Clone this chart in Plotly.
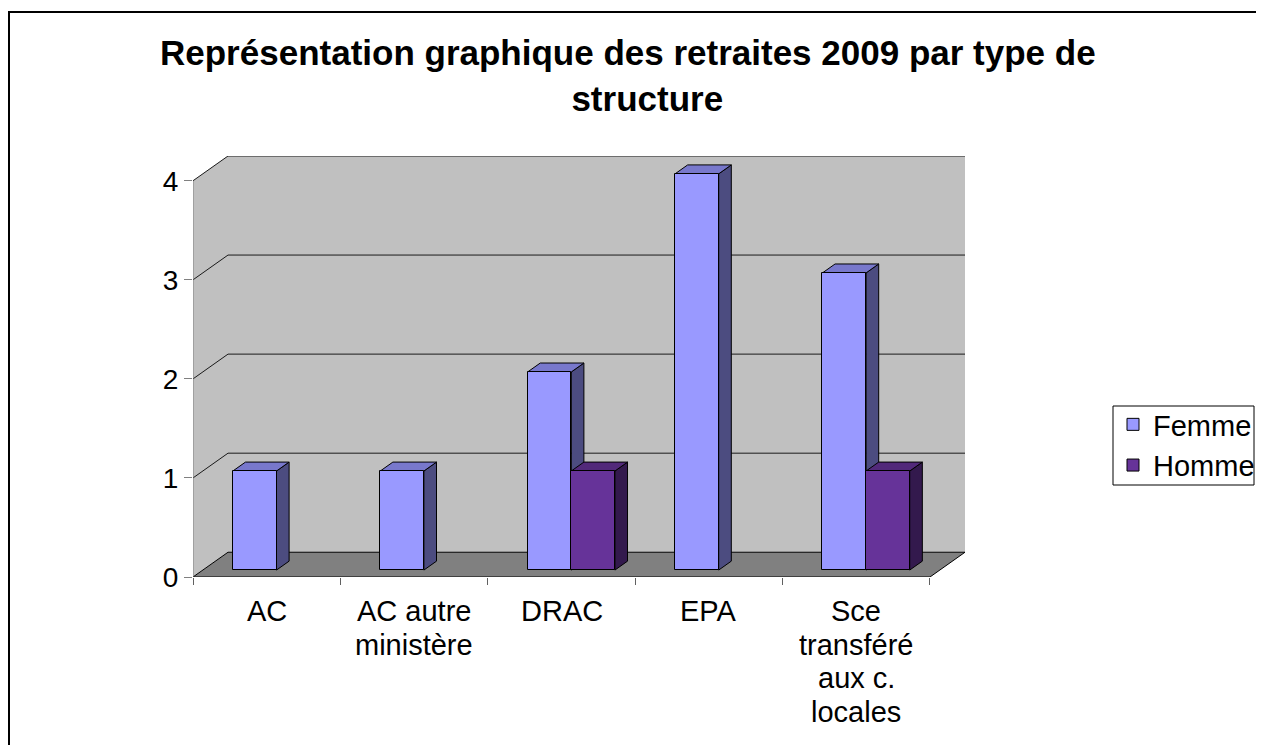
import plotly.graph_objects as go

# ---- data ----
categories = ["AC", "AC autre<br>ministère", "DRAC", "EPA", "Sce<br>transféré<br>aux c.<br>locales"]
femme = [1, 1, 2, 4, 3]
homme = [0, 0, 1, 0, 1]
series_names = ["Femme", "Homme"]
y_ticks = [0, 1, 2, 3, 4]
title_lines = ["Représentation graphique des retraites 2009 par type de", "structure"]

# ---- styling / geometry (page pixels, the page has an 8px body margin) ----
OFF = 8
W, H = 1264 - OFF, 745 - OFF
PLOT_L, PLOT_R, PLOT_T, PLOT_B = 193, 965, 156, 577   # page pixel coords of the plot box
ML, MR = PLOT_L - OFF, W - (PLOT_R - OFF)
MT, MB = PLOT_T - OFF, H - (PLOT_B - OFF)
pw, ph = W - ML - MR, H - MT - MB


def px(xp):  # page x pixel -> paper
    return (xp - PLOT_L) / pw


def py(yp):  # page y pixel -> paper
    return (PLOT_B - yp) / ph


N = len(categories)
YMAX = 4
DX, DY = 0.2375, 0.25          # depth of the 3D box in data units
BF, BB = 0.28, 0.64            # bar front / back position within depth
BW = 0.296                     # bar width (category units)
fx, fy = BF * DX, BF * DY
bdx, bdy = (BB - BF) * DX, (BB - BF) * DY

front_cols = ["#9999FF", "#663399"]
top_cols = ["#7878CC", "#52297A"]
side_cols = ["#4C4C80", "#33194D"]
FONT = "Liberation Sans, Arial, sans-serif"

shapes = []


def path(pts):
    return "M " + " L ".join(f"{x},{y}" for x, y in pts) + " Z"


# walls and floor
shapes.append(dict(type="path", path=path([(DX, DY), (N + DX, DY), (N + DX, YMAX + DY), (DX, YMAX + DY)]),
                   fillcolor="#C0C0C0", line=dict(width=0), layer="below"))
shapes.append(dict(type="path", path=path([(0, 0), (DX, DY), (DX, YMAX + DY), (0, YMAX)]),
                   fillcolor="#C0C0C0", line=dict(width=0), layer="below"))
shapes.append(dict(type="path", path=path([(0, 0), (N, 0), (N + DX, DY), (DX, DY)]),
                   fillcolor="#808080", line=dict(color="black", width=1), layer="below"))
# gridlines
for v in y_ticks[1:]:
    shapes.append(dict(type="line", x0=DX, y0=v + DY, x1=N + DX, y1=v + DY,
                       line=dict(color="#1a1a1a", width=1), layer="below"))
    shapes.append(dict(type="line", x0=0, y0=v, x1=DX, y1=v + DY,
                       line=dict(color="#1a1a1a", width=1), layer="below"))
# y axis line
shapes.append(dict(type="line", x0=0, y0=0, x1=0, y1=YMAX, line=dict(color="#808080", width=1), layer="below"))

# bar side and top faces (front faces are bar traces)
for i in range(N):
    c = i + 0.5
    for s, vals in enumerate([femme, homme]):
        v = vals[i]
        if not v:
            continue
        L = c + fx - BW + s * BW
        R = L + BW
        shapes.append(dict(type="path",
                           path=path([(R, fy), (R + bdx, fy + bdy), (R + bdx, fy + bdy + v), (R, fy + v)]),
                           fillcolor=side_cols[s], line=dict(color="black", width=1), layer="below"))
        shapes.append(dict(type="path",
                           path=path([(L, fy + v), (R, fy + v), (R + bdx, fy + v + bdy), (L + bdx, fy + v + bdy)]),
                           fillcolor=top_cols[s], line=dict(color="black", width=1), layer="below"))

# outer chart border (only top/left visible)
shapes.append(dict(type="rect", xref="paper", yref="paper",
                   x0=px(9), x1=px(1300), y0=py(800), y1=py(12),
                   line=dict(color="black", width=2), fillcolor="rgba(0,0,0,0)", layer="below"))
# legend frame
shapes.append(dict(type="rect", xref="paper", yref="paper",
                   x0=px(1113), x1=px(1254), y0=py(485), y1=py(406),
                   line=dict(color="black", width=1), fillcolor="rgba(0,0,0,0)", layer="above"))

fig = go.Figure()
centers = [i + 0.5 for i in range(N)]
for s, vals in enumerate([femme, homme]):
    fig.add_trace(go.Bar(
        x=centers, y=[v if v else None for v in vals], base=fy,
        width=BW, offset=fx - BW + s * BW,
        name=series_names[s], marker=dict(color=front_cols[s], line=dict(color="black", width=1)),
        hoverinfo="skip",
    ))

annotations = []
LINE_H = 33.5
for i, lab in enumerate(categories):
    for k, line in enumerate(lab.split("<br>")):
        annotations.append(dict(x=i + 0.5, y=0, xref="x", yref="y", text=line, showarrow=False,
                                yanchor="middle", yshift=-(34 + k * LINE_H),
                                font=dict(family=FONT, size=29, color="black")))
# title: second line nudged right with leading spaces as in the reference
title_text = "<b>" + title_lines[0] + "<br>" + "&nbsp;" * 4 + title_lines[1] + "</b>"
annotations.append(dict(x=px(628), y=py(75), xref="paper", yref="paper",
                        text=title_text, showarrow=False, yanchor="middle", xanchor="center",
                        align="center", font=dict(family=FONT, size=35, color="black")))

fig.update_layout(
    width=W, height=H, margin=dict(l=ML, r=MR, t=MT, b=MB, autoexpand=False),
    paper_bgcolor="white", plot_bgcolor="rgba(0,0,0,0)",
    barmode="overlay", bargap=0,
    shapes=shapes, annotations=annotations,
    showlegend=True,
    legend=dict(x=px(1113), y=py(399), xanchor="left", yanchor="top",
                borderwidth=0, bgcolor="rgba(0,0,0,0)",
                font=dict(family=FONT, size=29, color="black")),
    xaxis=dict(range=[0, N + DX], tickvals=list(range(N + 1)), showticklabels=False,
               ticks="outside", ticklen=7, tickcolor="#606060", showgrid=False, zeroline=False,
               showline=False, fixedrange=True),
    yaxis=dict(range=[0, YMAX + DY], tickvals=y_ticks, ticks="outside", ticklen=8, tickcolor="#808080",
               showgrid=False, zeroline=False, showline=False,
               tickfont=dict(family=FONT, size=28, color="black"), fixedrange=True),
)

fig.write_html("out.html")
